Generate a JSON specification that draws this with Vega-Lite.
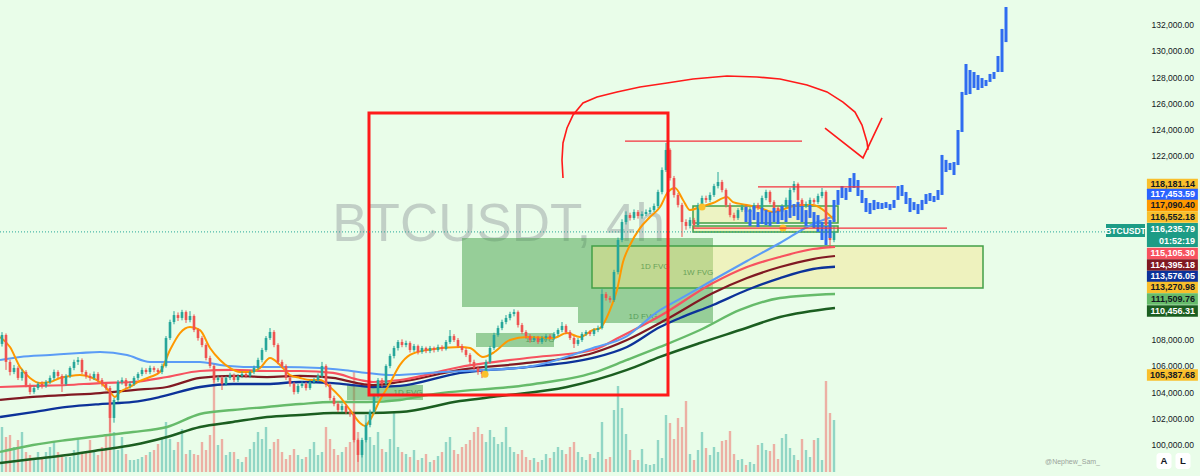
{
"$schema":"https://vega.github.io/schema/vega-lite/v6.json",
"width":1105,"height":472,
"autosize":{"type":"none"},
"padding":{"left":0,"top":0,"right":95,"bottom":4},
"background":"#e9fde9",
"config":{"view":{"stroke":null},"font":"Liberation Sans"},
"datasets":{
"candles":[
{"t":0,"o":107700,"h":108600,"l":107500,"c":108380,"v":4500},
{"t":1,"o":108380,"h":108500,"l":105720,"c":106330,"v":3500},
{"t":2,"o":106330,"h":106500,"l":105300,"c":105560,"v":3700},
{"t":3,"o":105560,"h":106100,"l":105400,"c":105870,"v":2500},
{"t":4,"o":105870,"h":106000,"l":104950,"c":105110,"v":3200},
{"t":5,"o":105110,"h":105800,"l":104900,"c":105560,"v":4000},
{"t":6,"o":105560,"h":105700,"l":104400,"c":104570,"v":2000},
{"t":7,"o":104570,"h":104700,"l":103850,"c":104040,"v":1700},
{"t":8,"o":104040,"h":104500,"l":103900,"c":104340,"v":1300},
{"t":9,"o":104340,"h":104800,"l":104200,"c":104650,"v":2000},
{"t":10,"o":104650,"h":104850,"l":104300,"c":104500,"v":1500},
{"t":11,"o":104500,"h":104950,"l":104350,"c":104800,"v":2000},
{"t":12,"o":104800,"h":105300,"l":104650,"c":105110,"v":2500},
{"t":13,"o":105110,"h":105750,"l":104950,"c":105560,"v":3000},
{"t":14,"o":105560,"h":105700,"l":105100,"c":105260,"v":2000},
{"t":15,"o":105260,"h":105400,"l":104040,"c":104650,"v":1700},
{"t":16,"o":104650,"h":105400,"l":104500,"c":105260,"v":1500},
{"t":17,"o":105260,"h":106000,"l":105100,"c":105870,"v":1500},
{"t":18,"o":105870,"h":106500,"l":105700,"c":106330,"v":2200},
{"t":19,"o":106330,"h":106700,"l":106100,"c":106480,"v":3300},
{"t":20,"o":106480,"h":106600,"l":105400,"c":105560,"v":2000},
{"t":21,"o":105560,"h":105700,"l":105050,"c":105260,"v":2000},
{"t":22,"o":105260,"h":105450,"l":104900,"c":105110,"v":3200},
{"t":23,"o":105110,"h":105600,"l":104950,"c":105410,"v":2200},
{"t":24,"o":105410,"h":105550,"l":104800,"c":104950,"v":1700},
{"t":25,"o":104950,"h":105100,"l":104450,"c":104650,"v":2500},
{"t":26,"o":104650,"h":104800,"l":104150,"c":104340,"v":3800},
{"t":27,"o":104340,"h":104500,"l":100990,"c":102060,"v":7700},
{"t":28,"o":102060,"h":103600,"l":101700,"c":103430,"v":4000},
{"t":29,"o":103430,"h":104950,"l":103250,"c":104800,"v":2200},
{"t":30,"o":104800,"h":105150,"l":104600,"c":104950,"v":3500},
{"t":31,"o":104950,"h":105100,"l":104300,"c":104500,"v":1800},
{"t":32,"o":104500,"h":104850,"l":104300,"c":104650,"v":1200},
{"t":33,"o":104650,"h":105250,"l":104500,"c":105110,"v":1200},
{"t":34,"o":105110,"h":105550,"l":104950,"c":105410,"v":1300},
{"t":35,"o":105410,"h":105900,"l":105250,"c":105720,"v":1500},
{"t":36,"o":105720,"h":105850,"l":105400,"c":105560,"v":1700},
{"t":37,"o":105560,"h":106050,"l":105400,"c":105870,"v":2000},
{"t":38,"o":105870,"h":106000,"l":105550,"c":105720,"v":2200},
{"t":39,"o":105720,"h":105850,"l":105400,"c":105560,"v":2800},
{"t":40,"o":105560,"h":106200,"l":105400,"c":106020,"v":3500},
{"t":41,"o":106020,"h":108300,"l":105900,"c":108150,"v":5000},
{"t":42,"o":108150,"h":109550,"l":108000,"c":109370,"v":3300},
{"t":43,"o":109370,"h":110200,"l":109200,"c":109900,"v":2200},
{"t":44,"o":109900,"h":110100,"l":109450,"c":109680,"v":3000},
{"t":45,"o":109680,"h":110300,"l":109500,"c":110130,"v":4300},
{"t":46,"o":110130,"h":110250,"l":109300,"c":109520,"v":1800},
{"t":47,"o":109520,"h":110200,"l":109350,"c":109830,"v":2200},
{"t":48,"o":109830,"h":109950,"l":108600,"c":108760,"v":1800},
{"t":49,"o":108760,"h":108900,"l":107950,"c":108150,"v":1700},
{"t":50,"o":108150,"h":108300,"l":107450,"c":107620,"v":3000},
{"t":51,"o":107620,"h":107750,"l":106450,"c":106630,"v":2200},
{"t":52,"o":106630,"h":106800,"l":105850,"c":106020,"v":3700},
{"t":53,"o":106020,"h":106150,"l":104750,"c":104950,"v":10000},
{"t":54,"o":104950,"h":105300,"l":104800,"c":105110,"v":2700},
{"t":55,"o":105110,"h":105250,"l":104190,"c":104650,"v":3300},
{"t":56,"o":104650,"h":105250,"l":104500,"c":105110,"v":1700},
{"t":57,"o":105110,"h":105500,"l":104950,"c":105330,"v":2000},
{"t":58,"o":105330,"h":105450,"l":104800,"c":104950,"v":2000},
{"t":59,"o":104950,"h":105400,"l":104800,"c":105260,"v":1300},
{"t":60,"o":105260,"h":105600,"l":105100,"c":105410,"v":1000},
{"t":61,"o":105410,"h":105550,"l":105100,"c":105260,"v":1500},
{"t":62,"o":105260,"h":105700,"l":105100,"c":105560,"v":2300},
{"t":63,"o":105560,"h":106050,"l":105400,"c":105870,"v":3000},
{"t":64,"o":105870,"h":106650,"l":105750,"c":106480,"v":4000},
{"t":65,"o":106480,"h":107400,"l":106300,"c":107240,"v":3300},
{"t":66,"o":107240,"h":108300,"l":107100,"c":108150,"v":4500},
{"t":67,"o":108150,"h":108910,"l":108000,"c":108610,"v":2300},
{"t":68,"o":108610,"h":108750,"l":107450,"c":107620,"v":3000},
{"t":69,"o":107620,"h":107750,"l":106150,"c":106330,"v":3300},
{"t":70,"o":106330,"h":106500,"l":105850,"c":106020,"v":2000},
{"t":71,"o":106020,"h":106150,"l":104950,"c":105110,"v":1300},
{"t":72,"o":105110,"h":105250,"l":104450,"c":104650,"v":1700},
{"t":73,"o":104650,"h":104800,"l":103850,"c":104040,"v":2300},
{"t":74,"o":104040,"h":104650,"l":103900,"c":104500,"v":1700},
{"t":75,"o":104500,"h":104850,"l":104350,"c":104650,"v":1300},
{"t":76,"o":104650,"h":104800,"l":104150,"c":104340,"v":1500},
{"t":77,"o":104340,"h":104950,"l":104200,"c":104800,"v":2300},
{"t":78,"o":104800,"h":105100,"l":104650,"c":104950,"v":3000},
{"t":79,"o":104950,"h":105450,"l":104800,"c":105260,"v":1700},
{"t":80,"o":105260,"h":106330,"l":105100,"c":106020,"v":2000},
{"t":81,"o":106020,"h":106150,"l":104400,"c":104570,"v":4500},
{"t":82,"o":104570,"h":104700,"l":103400,"c":103580,"v":3300},
{"t":83,"o":103580,"h":103750,"l":102950,"c":103120,"v":2300},
{"t":84,"o":103120,"h":103300,"l":102500,"c":102670,"v":1700},
{"t":85,"o":102670,"h":103150,"l":102500,"c":102970,"v":2000},
{"t":86,"o":102970,"h":103100,"l":102350,"c":102510,"v":2500},
{"t":87,"o":102510,"h":102700,"l":102150,"c":102360,"v":3000},
{"t":88,"o":102360,"h":102500,"l":100200,"c":100380,"v":10000},
{"t":89,"o":100380,"h":100500,"l":98710,"c":99240,"v":4000},
{"t":90,"o":99240,"h":100550,"l":99050,"c":100380,"v":3000},
{"t":91,"o":100380,"h":101700,"l":100200,"c":101520,"v":5700},
{"t":92,"o":101520,"h":102700,"l":101350,"c":102510,"v":3500},
{"t":93,"o":102510,"h":103900,"l":102350,"c":103730,"v":2700},
{"t":94,"o":103730,"h":105100,"l":103600,"c":104950,"v":4000},
{"t":95,"o":104950,"h":105100,"l":104400,"c":104650,"v":2300},
{"t":96,"o":104650,"h":106150,"l":104500,"c":106020,"v":2000},
{"t":97,"o":106020,"h":106950,"l":105850,"c":106780,"v":3300},
{"t":98,"o":106780,"h":107550,"l":106600,"c":107390,"v":6000},
{"t":99,"o":107390,"h":108000,"l":107200,"c":107850,"v":2500},
{"t":100,"o":107850,"h":108050,"l":107450,"c":107620,"v":2000},
{"t":101,"o":107620,"h":107950,"l":107450,"c":107770,"v":1800},
{"t":102,"o":107770,"h":107900,"l":107050,"c":107240,"v":1500},
{"t":103,"o":107240,"h":107700,"l":107100,"c":107540,"v":2200},
{"t":104,"o":107540,"h":107650,"l":106900,"c":107090,"v":1200},
{"t":105,"o":107090,"h":107550,"l":106950,"c":107390,"v":1400},
{"t":106,"o":107390,"h":107500,"l":107000,"c":107160,"v":1800},
{"t":107,"o":107160,"h":107550,"l":107000,"c":107390,"v":1000},
{"t":108,"o":107390,"h":107500,"l":107050,"c":107240,"v":1200},
{"t":109,"o":107240,"h":107650,"l":107100,"c":107470,"v":1600},
{"t":110,"o":107470,"h":107600,"l":107150,"c":107310,"v":2000},
{"t":111,"o":107310,"h":108000,"l":107200,"c":107850,"v":3000},
{"t":112,"o":107850,"h":108760,"l":107700,"c":108300,"v":3500},
{"t":113,"o":108300,"h":108450,"l":107850,"c":108000,"v":2200},
{"t":114,"o":108000,"h":108150,"l":107400,"c":107540,"v":1800},
{"t":115,"o":107540,"h":107700,"l":107050,"c":107240,"v":2500},
{"t":116,"o":107240,"h":107400,"l":106700,"c":106860,"v":2800},
{"t":117,"o":106860,"h":107000,"l":106150,"c":106330,"v":3200},
{"t":118,"o":106330,"h":106500,"l":105700,"c":105870,"v":4000},
{"t":119,"o":105870,"h":106000,"l":105350,"c":105560,"v":4500},
{"t":120,"o":105560,"h":105700,"l":105100,"c":105410,"v":3800},
{"t":121,"o":105410,"h":106500,"l":105300,"c":106330,"v":3000},
{"t":122,"o":106330,"h":107550,"l":106200,"c":107390,"v":4200},
{"t":123,"o":107390,"h":108550,"l":107250,"c":108380,"v":3500},
{"t":124,"o":108380,"h":109100,"l":108250,"c":108910,"v":2800},
{"t":125,"o":108910,"h":109550,"l":108750,"c":109370,"v":3000},
{"t":126,"o":109370,"h":109900,"l":109200,"c":109680,"v":4500},
{"t":127,"o":109680,"h":110150,"l":109500,"c":109980,"v":2500},
{"t":128,"o":109980,"h":110340,"l":109800,"c":110130,"v":2000},
{"t":129,"o":110130,"h":110250,"l":108950,"c":109140,"v":1800},
{"t":130,"o":109140,"h":109300,"l":108450,"c":108610,"v":2200},
{"t":131,"o":108610,"h":108750,"l":108100,"c":108300,"v":1500},
{"t":132,"o":108300,"h":108450,"l":107800,"c":108000,"v":1200},
{"t":133,"o":108000,"h":108300,"l":107850,"c":108150,"v":1400},
{"t":134,"o":108150,"h":108300,"l":107700,"c":107850,"v":1000},
{"t":135,"o":107850,"h":108300,"l":107700,"c":108150,"v":1200},
{"t":136,"o":108150,"h":108450,"l":108000,"c":108300,"v":1800},
{"t":137,"o":108300,"h":108450,"l":108000,"c":108150,"v":1400},
{"t":138,"o":108150,"h":108600,"l":108000,"c":108460,"v":2000},
{"t":139,"o":108460,"h":108900,"l":108300,"c":108760,"v":2500},
{"t":140,"o":108760,"h":109370,"l":108600,"c":109070,"v":2200},
{"t":141,"o":109070,"h":109200,"l":108450,"c":108610,"v":1800},
{"t":142,"o":108610,"h":108750,"l":108000,"c":108150,"v":2500},
{"t":143,"o":108150,"h":108300,"l":107390,"c":107700,"v":3000},
{"t":144,"o":107700,"h":108150,"l":107550,"c":108000,"v":2000},
{"t":145,"o":108000,"h":108600,"l":107850,"c":108460,"v":1500},
{"t":146,"o":108460,"h":108750,"l":108300,"c":108610,"v":1200},
{"t":147,"o":108610,"h":108750,"l":108300,"c":108460,"v":1800},
{"t":148,"o":108460,"h":108900,"l":108300,"c":108760,"v":1400},
{"t":149,"o":108760,"h":109100,"l":108600,"c":108910,"v":2000},
{"t":150,"o":108910,"h":111870,"l":108800,"c":111500,"v":5000},
{"t":151,"o":111500,"h":111650,"l":111000,"c":111200,"v":1300},
{"t":152,"o":111200,"h":111350,"l":110850,"c":111050,"v":1500},
{"t":153,"o":111050,"h":113350,"l":110900,"c":113180,"v":6200},
{"t":154,"o":113180,"h":115800,"l":113000,"c":115620,"v":8600},
{"t":155,"o":115620,"h":117200,"l":115450,"c":116990,"v":6400},
{"t":156,"o":116990,"h":117800,"l":116800,"c":117520,"v":3800},
{"t":157,"o":117520,"h":117700,"l":117100,"c":117300,"v":2200},
{"t":158,"o":117300,"h":117950,"l":117150,"c":117750,"v":1200},
{"t":159,"o":117750,"h":117900,"l":117250,"c":117450,"v":1200},
{"t":160,"o":117450,"h":117800,"l":117250,"c":117600,"v":2300},
{"t":161,"o":117600,"h":117950,"l":117450,"c":117750,"v":800},
{"t":162,"o":117750,"h":118100,"l":117600,"c":117900,"v":700},
{"t":163,"o":117900,"h":118400,"l":117750,"c":118210,"v":800},
{"t":164,"o":118210,"h":119450,"l":118050,"c":119280,"v":3200},
{"t":165,"o":119280,"h":121150,"l":119100,"c":120950,"v":1400},
{"t":166,"o":120950,"h":123010,"l":120800,"c":122480,"v":5700},
{"t":167,"o":122480,"h":122600,"l":120150,"c":120340,"v":4900},
{"t":168,"o":120340,"h":120500,"l":118850,"c":119050,"v":3300},
{"t":169,"o":119050,"h":119200,"l":118100,"c":118290,"v":5400},
{"t":170,"o":118290,"h":118450,"l":115850,"c":116990,"v":4500},
{"t":171,"o":116990,"h":117200,"l":116400,"c":116690,"v":7100},
{"t":172,"o":116690,"h":117350,"l":116500,"c":117140,"v":1800},
{"t":173,"o":117140,"h":117300,"l":116550,"c":116760,"v":1200},
{"t":174,"o":116760,"h":118450,"l":116600,"c":118290,"v":2200},
{"t":175,"o":118290,"h":119000,"l":118100,"c":118820,"v":4000},
{"t":176,"o":118820,"h":119000,"l":118450,"c":118670,"v":2400},
{"t":177,"o":118670,"h":119250,"l":118500,"c":119050,"v":1700},
{"t":178,"o":119050,"h":119900,"l":118900,"c":119730,"v":2500},
{"t":179,"o":119730,"h":120800,"l":119550,"c":120040,"v":2000},
{"t":180,"o":120040,"h":120200,"l":119250,"c":119430,"v":3100},
{"t":181,"o":119430,"h":119550,"l":118100,"c":118290,"v":3200},
{"t":182,"o":118290,"h":118450,"l":117350,"c":117520,"v":4100},
{"t":183,"o":117520,"h":117700,"l":117100,"c":117300,"v":1800},
{"t":184,"o":117300,"h":118050,"l":117150,"c":117900,"v":1200},
{"t":185,"o":117900,"h":118300,"l":117750,"c":118130,"v":1300},
{"t":186,"o":118130,"h":118300,"l":117550,"c":117750,"v":700},
{"t":187,"o":117750,"h":118150,"l":117600,"c":117980,"v":1000},
{"t":188,"o":117980,"h":118450,"l":117800,"c":118290,"v":800},
{"t":189,"o":118290,"h":118450,"l":117900,"c":118060,"v":2700},
{"t":190,"o":118060,"h":119000,"l":117900,"c":118820,"v":2900},
{"t":191,"o":118820,"h":119450,"l":118650,"c":119280,"v":2200},
{"t":192,"o":119280,"h":119400,"l":118350,"c":118510,"v":2100},
{"t":193,"o":118510,"h":118650,"l":117900,"c":118060,"v":2800},
{"t":194,"o":118060,"h":118200,"l":117550,"c":117750,"v":1300},
{"t":195,"o":117750,"h":118350,"l":117600,"c":118210,"v":3400},
{"t":196,"o":118210,"h":118850,"l":118050,"c":118670,"v":3800},
{"t":197,"o":118670,"h":119600,"l":118500,"c":119430,"v":2400},
{"t":198,"o":119430,"h":120110,"l":119250,"c":119890,"v":1700},
{"t":199,"o":119890,"h":120000,"l":118500,"c":118670,"v":1200},
{"t":200,"o":118670,"h":118800,"l":118050,"c":118210,"v":3300},
{"t":201,"o":118210,"h":118550,"l":118050,"c":118360,"v":2200},
{"t":202,"o":118360,"h":118850,"l":118200,"c":118670,"v":1500},
{"t":203,"o":118670,"h":118800,"l":118350,"c":118510,"v":3200},
{"t":204,"o":118510,"h":119150,"l":118350,"c":118970,"v":3400},
{"t":205,"o":118970,"h":119580,"l":118800,"c":119280,"v":1200},
{"t":206,"o":119280,"h":119400,"l":116550,"c":116760,"v":9100},
{"t":207,"o":116760,"h":116900,"l":115010,"c":115620,"v":5900},
{"t":208,"o":115620,"h":116700,"l":115450,"c":116236,"v":5200}
],
"proj":[
{"t":186,"hi":118130,"lo":116990},{"t":187,"hi":117900,"lo":116690},{"t":188,"hi":118210,"lo":117140},{"t":189,"hi":117750,"lo":116610},
{"t":190,"hi":118060,"lo":116840},{"t":191,"hi":117900,"lo":116760},{"t":192,"hi":117750,"lo":116690},{"t":193,"hi":118060,"lo":116990},
{"t":194,"hi":117830,"lo":116840},{"t":195,"hi":118210,"lo":117140},{"t":196,"hi":117900,"lo":116990},{"t":197,"hi":118670,"lo":117300},
{"t":198,"hi":118360,"lo":117450},{"t":199,"hi":118510,"lo":117140},{"t":200,"hi":118210,"lo":116990},{"t":201,"hi":117900,"lo":116690},
{"t":202,"hi":118290,"lo":117300},{"t":203,"hi":117750,"lo":116530},{"t":204,"hi":117520,"lo":116230},{"t":205,"hi":116990,"lo":115620},
{"t":206,"hi":116690,"lo":115240},{"t":207,"hi":117140,"lo":115770},{"t":208,"hi":118670,"lo":116990},{"t":209,"hi":119430,"lo":118290},
{"t":210,"hi":119730,"lo":118820},{"t":211,"hi":119580,"lo":118670},{"t":212,"hi":120340,"lo":119280},{"t":213,"hi":120720,"lo":119580},
{"t":214,"hi":120190,"lo":118970},{"t":215,"hi":119430,"lo":118440},{"t":216,"hi":118820,"lo":117750},{"t":217,"hi":118440,"lo":117600},
{"t":218,"hi":118670,"lo":117900},{"t":219,"hi":118510,"lo":117980},{"t":220,"hi":118440,"lo":117980},{"t":221,"hi":118510,"lo":118060},
{"t":222,"hi":118360,"lo":117900},{"t":223,"hi":118670,"lo":118060},{"t":224,"hi":119730,"lo":118670},{"t":225,"hi":119810,"lo":118970},
{"t":226,"hi":119280,"lo":118360},{"t":227,"hi":118820,"lo":117750},{"t":228,"hi":118510,"lo":117900},{"t":229,"hi":118360,"lo":117600},
{"t":230,"hi":118670,"lo":117900},{"t":231,"hi":119120,"lo":118360},{"t":232,"hi":119200,"lo":118590},{"t":233,"hi":118970,"lo":118510},
{"t":234,"hi":119430,"lo":118670},{"t":235,"hi":122100,"lo":119050},{"t":236,"hi":121720,"lo":120800},{"t":237,"hi":121490,"lo":120950},
{"t":238,"hi":121560,"lo":120570},{"t":239,"hi":124000,"lo":121330},{"t":240,"hi":126900,"lo":123850},{"t":241,"hi":129030,"lo":126670},
{"t":242,"hi":128570,"lo":126740},{"t":243,"hi":128420,"lo":127200},{"t":244,"hi":128190,"lo":127050},{"t":245,"hi":127960,"lo":127200},
{"t":246,"hi":127810,"lo":127350},{"t":247,"hi":128270,"lo":127660},{"t":248,"hi":128420,"lo":127890},{"t":249,"hi":129640,"lo":128420},
{"t":250,"hi":131700,"lo":128420},{"t":251,"hi":133370,"lo":130700}
],
"ma":[
{"s":"dg","t":-0.5,"p":98630},{"s":"dg","t":7.75,"p":98930},{"s":"dg","t":16.25,"p":99240},{"s":"dg","t":24.5,"p":99620},{"s":"dg","t":32.75,"p":100000},{"s":"dg","t":41.25,"p":100610},{"s":"dg","t":49.5,"p":101370},{"s":"dg","t":57.75,"p":101750},{"s":"dg","t":66.25,"p":102130},{"s":"dg","t":74.5,"p":102290},{"s":"dg","t":82.75,"p":102440},{"s":"dg","t":91.25,"p":102440},{"s":"dg","t":99.5,"p":102510},{"s":"dg","t":114.5,"p":103350},{"s":"dg","t":124.5,"p":103730},{"s":"dg","t":141.25,"p":104420},{"s":"dg","t":156.25,"p":105720},{"s":"dg","t":164.5,"p":106710},{"s":"dg","t":174.5,"p":107770},{"s":"dg","t":184.5,"p":108760},{"s":"dg","t":194.5,"p":109750},{"s":"dg","t":208.25,"p":110440},
{"s":"lg","t":-0.5,"p":99470},{"s":"lg","t":7.75,"p":100000},{"s":"lg","t":16.25,"p":100380},{"s":"lg","t":24.5,"p":100690},{"s":"lg","t":32.75,"p":100990},{"s":"lg","t":41.25,"p":101370},{"s":"lg","t":49.5,"p":102360},{"s":"lg","t":57.75,"p":102670},{"s":"lg","t":66.25,"p":102900},{"s":"lg","t":74.5,"p":103120},{"s":"lg","t":82.75,"p":103280},{"s":"lg","t":91.25,"p":103280},{"s":"lg","t":99.5,"p":103430},{"s":"lg","t":106.25,"p":103810},{"s":"lg","t":131.25,"p":104570},{"s":"lg","t":147.75,"p":105490},{"s":"lg","t":156.25,"p":106480},{"s":"lg","t":164.5,"p":107470},{"s":"lg","t":174.5,"p":108760},{"s":"lg","t":184.5,"p":110290},{"s":"lg","t":194.5,"p":111200},{"s":"lg","t":208.25,"p":111510},
{"s":"nv","t":-0.5,"p":102130},{"s":"nv","t":7.75,"p":102510},{"s":"nv","t":16.25,"p":102900},{"s":"nv","t":24.5,"p":103120},{"s":"nv","t":32.75,"p":103280},{"s":"nv","t":39.5,"p":103660},{"s":"nv","t":49.5,"p":104420},{"s":"nv","t":57.75,"p":104650},{"s":"nv","t":66.25,"p":104650},{"s":"nv","t":74.5,"p":104800},{"s":"nv","t":82.75,"p":104720},{"s":"nv","t":89.5,"p":104500},{"s":"nv","t":92.75,"p":104420},{"s":"nv","t":99.5,"p":104500},{"s":"nv","t":114.5,"p":105490},{"s":"nv","t":131.25,"p":105940},{"s":"nv","t":147.75,"p":106630},{"s":"nv","t":156.25,"p":107470},{"s":"nv","t":164.5,"p":108990},{"s":"nv","t":169.5,"p":109680},{"s":"nv","t":177.75,"p":110670},{"s":"nv","t":186.25,"p":111810},{"s":"nv","t":194.5,"p":112720},{"s":"nv","t":202.75,"p":113410},{"s":"nv","t":208.25,"p":113580},
{"s":"dr","t":-0.5,"p":103430},{"s":"dr","t":7.75,"p":103660},{"s":"dr","t":16.25,"p":103810},{"s":"dr","t":24.5,"p":103960},{"s":"dr","t":32.75,"p":104190},{"s":"dr","t":41.25,"p":104420},{"s":"dr","t":49.5,"p":105110},{"s":"dr","t":57.75,"p":105260},{"s":"dr","t":66.25,"p":105180},{"s":"dr","t":74.5,"p":105260},{"s":"dr","t":82.75,"p":105110},{"s":"dr","t":88.75,"p":104720},{"s":"dr","t":92.75,"p":104570},{"s":"dr","t":99.5,"p":104800},{"s":"dr","t":114.5,"p":105720},{"s":"dr","t":131.25,"p":106250},{"s":"dr","t":147.75,"p":107010},{"s":"dr","t":156.25,"p":108000},{"s":"dr","t":166.25,"p":109600},{"s":"dr","t":177.75,"p":111580},{"s":"dr","t":186.25,"p":112720},{"s":"dr","t":194.5,"p":113560},{"s":"dr","t":202.75,"p":114170},{"s":"dr","t":208.25,"p":114400},
{"s":"r","t":-0.5,"p":104420},{"s":"r","t":7.75,"p":104500},{"s":"r","t":16.25,"p":104570},{"s":"r","t":24.5,"p":104720},{"s":"r","t":32.75,"p":104800},{"s":"r","t":41.25,"p":105180},{"s":"r","t":49.5,"p":105640},{"s":"r","t":57.75,"p":105720},{"s":"r","t":66.25,"p":105640},{"s":"r","t":74.5,"p":105640},{"s":"r","t":82.75,"p":105490},{"s":"r","t":89.5,"p":104950},{"s":"r","t":92.75,"p":104800},{"s":"r","t":99.5,"p":104950},{"s":"r","t":114.5,"p":105940},{"s":"r","t":131.25,"p":106630},{"s":"r","t":147.75,"p":107240},{"s":"r","t":154.5,"p":108230},{"s":"r","t":164.5,"p":109830},{"s":"r","t":177.75,"p":112340},{"s":"r","t":186.25,"p":113560},{"s":"r","t":194.5,"p":114330},{"s":"r","t":202.75,"p":114930},{"s":"r","t":208.25,"p":115100},
{"s":"lb","t":-0.5,"p":106480},{"s":"lb","t":4.5,"p":106710},{"s":"lb","t":12,"p":106860},{"s":"lb","t":19.5,"p":107010},{"s":"lb","t":24.5,"p":107090},{"s":"lb","t":31.25,"p":106860},{"s":"lb","t":37,"p":106330},{"s":"lb","t":42.75,"p":106330},{"s":"lb","t":49.5,"p":106330},{"s":"lb","t":54.5,"p":106100},{"s":"lb","t":62,"p":105940},{"s":"lb","t":69.5,"p":105940},{"s":"lb","t":79.5,"p":105870},{"s":"lb","t":85.25,"p":105720},{"s":"lb","t":91.25,"p":105490},{"s":"lb","t":97.75,"p":105330},{"s":"lb","t":110.25,"p":105560},{"s":"lb","t":131.25,"p":105940},{"s":"lb","t":147.75,"p":107390},{"s":"lb","t":156.25,"p":108300},{"s":"lb","t":163.75,"p":110130},{"s":"lb","t":169.5,"p":111130},{"s":"lb","t":177.75,"p":112570},{"s":"lb","t":186.25,"p":114020},{"s":"lb","t":194.5,"p":115390},{"s":"lb","t":202.75,"p":116840},{"s":"lb","t":208.25,"p":117450},
{"s":"e20","t":-0.5,"p":108230},{"s":"e20","t":2,"p":107470},{"s":"e20","t":4.5,"p":105940},{"s":"e20","t":7,"p":105110},{"s":"e20","t":9.5,"p":104720},{"s":"e20","t":12,"p":104800},{"s":"e20","t":14.5,"p":105110},{"s":"e20","t":17,"p":105260},{"s":"e20","t":19.5,"p":105330},{"s":"e20","t":22,"p":105180},{"s":"e20","t":24.5,"p":104800},{"s":"e20","t":27,"p":104040},{"s":"e20","t":28.25,"p":103660},{"s":"e20","t":29.5,"p":104040},{"s":"e20","t":32,"p":104420},{"s":"e20","t":34.5,"p":104880},{"s":"e20","t":37,"p":105180},{"s":"e20","t":39.5,"p":105560},{"s":"e20","t":42,"p":107240},{"s":"e20","t":44.5,"p":108530},{"s":"e20","t":47,"p":108990},{"s":"e20","t":49.5,"p":108760},{"s":"e20","t":52,"p":107390},{"s":"e20","t":54.5,"p":106480},{"s":"e20","t":57,"p":105870},{"s":"e20","t":59.5,"p":105560},{"s":"e20","t":62,"p":105560},{"s":"e20","t":64.5,"p":105870},{"s":"e20","t":67,"p":106630},{"s":"e20","t":69.5,"p":106100},{"s":"e20","t":72,"p":105330},{"s":"e20","t":74.5,"p":105110},{"s":"e20","t":77,"p":104950},{"s":"e20","t":79.5,"p":104950},{"s":"e20","t":82,"p":104420},{"s":"e20","t":84.5,"p":103660},{"s":"e20","t":87,"p":102670},{"s":"e20","t":89.5,"p":101680},{"s":"e20","t":90.75,"p":101450},{"s":"e20","t":92,"p":101900},{"s":"e20","t":94.5,"p":103430},{"s":"e20","t":97,"p":104720},{"s":"e20","t":99.5,"p":106100},{"s":"e20","t":102,"p":106860},{"s":"e20","t":106.25,"p":107240},{"s":"e20","t":114.5,"p":107470},{"s":"e20","t":117,"p":107390},{"s":"e20","t":120.25,"p":106710},{"s":"e20","t":122.75,"p":107010},{"s":"e20","t":127,"p":108000},{"s":"e20","t":131.25,"p":108230},{"s":"e20","t":137.75,"p":108150},{"s":"e20","t":141.25,"p":108530},{"s":"e20","t":144.5,"p":108230},{"s":"e20","t":147.75,"p":108760},{"s":"e20","t":149.5,"p":108910},{"s":"e20","t":152,"p":110290},{"s":"e20","t":153.75,"p":111810},{"s":"e20","t":155.25,"p":113940},{"s":"e20","t":157,"p":115240},{"s":"e20","t":159.5,"p":116530},{"s":"e20","t":162,"p":117370},{"s":"e20","t":164.5,"p":118130},{"s":"e20","t":166.5,"p":119280},{"s":"e20","t":168.25,"p":119580},{"s":"e20","t":170.25,"p":118670},{"s":"e20","t":172,"p":117900},{"s":"e20","t":174.5,"p":118130},{"s":"e20","t":177.75,"p":118440},{"s":"e20","t":181.25,"p":118900},{"s":"e20","t":182.75,"p":118510},{"s":"e20","t":186.25,"p":118290},{"s":"e20","t":189.5,"p":118060},{"s":"e20","t":192.75,"p":117750},{"s":"e20","t":196.25,"p":118060},{"s":"e20","t":199.5,"p":118290},{"s":"e20","t":202.75,"p":118290},{"s":"e20","t":206.25,"p":117680},{"s":"e20","t":208.25,"p":117090}
],
"boxes":[
{"k":"1D FVG","t1":115,"t2":177.75,"p1":115770,"p2":110510},
{"k":"1D FVG","t1":144,"t2":177.75,"p1":110510,"p2":109295},
{"k":"1D FVG","t1":86.25,"t2":105.25,"p1":104570,"p2":103430},
{"k":"1D FVG","t1":118.5,"t2":138,"p1":108530,"p2":107470},
{"k":"1W FVG","t1":147.5,"t2":245.25,"p1":115160,"p2":111960},
{"k":"range","t1":172.75,"t2":209,"p1":118210,"p2":116910},
{"k":"range","t1":172.75,"t2":209,"p1":116680,"p2":116230}
],
"fvgtext":[
{"s":"1D FVG","t":163.25,"p":113560},
{"s":"1W FVG","t":174,"p":113100},
{"s":"1D FVG","t":160.25,"p":109750},
{"s":"1D FVG","t":101.5,"p":103960},
{"s":"1D FVG","t":134.5,"p":108000}
],
"redlines":[
{"t1":155.75,"t2":200,"p":123160},{"t1":189,"t2":223.5,"p":119660},{"t1":172.75,"t2":236.25,"p":116530}
],
"redbox":[{"t1":91.75,"t2":166.5,"p1":125300,"p2":103810}],
"arc":[
{"g":"a","n":0,"t":140.25,"p":120340},{"g":"a","n":1,"t":140,"p":121720},{"g":"a","n":2,"t":140.25,"p":123010},{"g":"a","n":3,"t":141.25,"p":124150},{"g":"a","n":4,"t":142.75,"p":125140},{"g":"a","n":5,"t":145.25,"p":126060},{"g":"a","n":6,"t":148.75,"p":126520},{"g":"a","n":7,"t":153.75,"p":126900},{"g":"a","n":8,"t":159.5,"p":127280},{"g":"a","n":9,"t":166.25,"p":127580},{"g":"a","n":10,"t":172.75,"p":127890},{"g":"a","n":11,"t":181.25,"p":128110},{"g":"a","n":12,"t":188.75,"p":128040},{"g":"a","n":13,"t":194.5,"p":127890},{"g":"a","n":14,"t":201.25,"p":127430},{"g":"a","n":15,"t":206.25,"p":126900},{"g":"a","n":16,"t":210.25,"p":126130},{"g":"a","n":17,"t":213.25,"p":125370},{"g":"a","n":18,"t":215,"p":124380},{"g":"a","n":19,"t":216.25,"p":123090},{"g":"a","n":20,"t":216.5,"p":122480},
{"g":"b","n":0,"t":205.75,"p":124150},{"g":"b","n":1,"t":215.25,"p":121870},{"g":"b","n":2,"t":220,"p":124920}
],
"dots":[{"t":120.75,"p":105390},{"t":175,"p":118134},{"t":195.25,"p":116533}],
"labels":[
{"s":"118,181.14","at":119848},{"s":"117,453.59","at":119086},{"s":"117,090.40","at":118248},{"s":"116,552.18","at":117372},
{"s":"115,105.30","at":114591},{"s":"114,395.18","at":113715},{"s":"113,576.05","at":112839},{"s":"113,270.98","at":112001},
{"s":"111,509.76","at":111124},{"s":"110,456.31","at":110210},{"s":"105,387.68","at":105333}
],
"last":[{"s":"116,235.79","at":116458},{"s":"01:52:19","at":115543}],
"ticks":[{"p":100000},{"p":102000},{"p":104000},{"p":106000},{"p":108000},{"p":122000},{"p":124000},{"p":126000},{"p":128000},{"p":130000},{"p":132000}]
},
"resolve":{"scale":{"y":"independent"}},
"layer":[
{"data":{"name":"candles"},"mark":{"type":"rule","strokeWidth":2.4},
 "encoding":{"x":{"field":"t","type":"quantitative","scale":{"domain":[-0.5,275.75],"nice":false,"zero":false},"axis":null},
  "y":{"field":"v","type":"quantitative","scale":{"domain":[0,47200],"nice":false},"axis":null},
  "y2":{"datum":0},
  "color":{"condition":{"test":"datum.c>=datum.o","value":"#26a69a"},"value":"#ef5350"},
  "opacity":{"value":0.45}}},
{"resolve":{"scale":{"color":"independent"}},
 "layer":[
 {"data":{"name":"ticks"},
  "mark":{"type":"text","align":"right","baseline":"middle","fontSize":8.5,"font":"Liberation Sans","color":"#131722"},
  "encoding":{"text":{"field":"p","type":"quantitative","format":",.2f"},
   "x":{"datum":298,"type":"quantitative","scale":{"domain":[-0.5,275.75],"nice":false,"zero":false},"axis":null},
   "y":{"field":"p","type":"quantitative","scale":{"domain":[97943,133905],"nice":false,"zero":false},"axis":null}}},
 {"data":{"values":[{"s":"BTCUSDT, 4h"}]},
  "mark":{"type":"text","align":"right","baseline":"alphabetic","fontSize":53,"font":"Liberation Sans","color":"#787b86","opacity":0.35},
  "encoding":{"text":{"field":"s"},
   "x":{"datum":165.75,"type":"quantitative","scale":{"domain":[-0.5,275.75],"nice":false,"zero":false},"axis":null},
   "y":{"datum":115524,"type":"quantitative","scale":{"domain":[97943,133905],"nice":false,"zero":false},"axis":null}}},
 {"data":{"name":"boxes"},"transform":[{"filter":"datum.k=='1D FVG'"}],
  "mark":{"type":"rect","color":"#43a047","opacity":0.5},
  "encoding":{"x":{"field":"t1","type":"quantitative","scale":{"domain":[-0.5,275.75],"nice":false,"zero":false},"axis":null},"x2":{"field":"t2"},
   "y":{"field":"p1","type":"quantitative","scale":{"domain":[97943,133905],"nice":false,"zero":false},"axis":null},"y2":{"field":"p2"}}},
 {"data":{"name":"boxes"},"transform":[{"filter":"datum.k=='1W FVG'"}],
  "mark":{"type":"rect","fill":"#f3e48a","fillOpacity":0.45,"stroke":"#43a047","strokeWidth":1.5},
  "encoding":{"x":{"field":"t1","type":"quantitative","scale":{"domain":[-0.5,275.75],"nice":false,"zero":false},"axis":null},"x2":{"field":"t2"},
   "y":{"field":"p1","type":"quantitative","scale":{"domain":[97943,133905],"nice":false,"zero":false},"axis":null},"y2":{"field":"p2"}}},
 {"data":{"name":"boxes"},"transform":[{"filter":"datum.k=='range'"}],
  "mark":{"type":"rect","fill":"#f3e48a","fillOpacity":0.4,"stroke":"#43a047","strokeWidth":1.5},
  "encoding":{"x":{"field":"t1","type":"quantitative","scale":{"domain":[-0.5,275.75],"nice":false,"zero":false},"axis":null},"x2":{"field":"t2"},
   "y":{"field":"p1","type":"quantitative","scale":{"domain":[97943,133905],"nice":false,"zero":false},"axis":null},"y2":{"field":"p2"}}},
 {"data":{"name":"fvgtext"},
  "mark":{"type":"text","fontSize":8,"color":"#2e7d32","opacity":0.6,"baseline":"middle"},
  "encoding":{"text":{"field":"s"},"x":{"field":"t","type":"quantitative","scale":{"domain":[-0.5,275.75],"nice":false,"zero":false},"axis":null},
   "y":{"field":"p","type":"quantitative","scale":{"domain":[97943,133905],"nice":false,"zero":false},"axis":null}}},
 {"data":{"name":"ma"},
  "mark":{"type":"line","interpolate":"monotone"},
  "encoding":{"x":{"field":"t","type":"quantitative","scale":{"domain":[-0.5,275.75],"nice":false,"zero":false},"axis":null},
   "y":{"field":"p","type":"quantitative","scale":{"domain":[97943,133905],"nice":false,"zero":false},"axis":null},
   "color":{"field":"s","type":"nominal","scale":{"domain":["dg","lg","nv","dr","r","lb","e20"],"range":["#1b5e20","#66bb6a","#0c3299","#801922","#f7525f","#5b9cf6","#ff9800"]},"legend":null},
   "strokeWidth":{"field":"s","type":"ordinal","scale":{"domain":["dg","lg","nv","dr","r","lb","e20"],"range":[2.5,2,2.5,2.5,2.5,2,1.5]},"legend":null}}},
 {"data":{"name":"candles"},"mark":{"type":"rule","strokeWidth":1},
  "encoding":{"x":{"field":"t","type":"quantitative","scale":{"domain":[-0.5,275.75],"nice":false,"zero":false},"axis":null},
   "y":{"field":"h","type":"quantitative","scale":{"domain":[97943,133905],"nice":false,"zero":false},"axis":null},"y2":{"field":"l"},
   "color":{"condition":{"test":"datum.c>=datum.o","value":"#26a69a"},"value":"#ef5350"}}},
 {"data":{"name":"candles"},"mark":{"type":"rule","strokeWidth":2.6},
  "encoding":{"x":{"field":"t","type":"quantitative","scale":{"domain":[-0.5,275.75],"nice":false,"zero":false},"axis":null},
   "y":{"field":"o","type":"quantitative","scale":{"domain":[97943,133905],"nice":false,"zero":false},"axis":null},"y2":{"field":"c"},
   "color":{"condition":{"test":"datum.c>=datum.o","value":"#26a69a"},"value":"#ef5350"}}},
 {"data":{"name":"proj"},"mark":{"type":"rule","strokeWidth":3,"color":"#2f6cf0"},
  "encoding":{"x":{"field":"t","type":"quantitative","scale":{"domain":[-0.5,275.75],"nice":false,"zero":false},"axis":null},
   "y":{"field":"hi","type":"quantitative","scale":{"domain":[97943,133905],"nice":false,"zero":false},"axis":null},"y2":{"field":"lo"}}},
 {"data":{"name":"dots"},"mark":{"type":"point","filled":true,"color":"#fbc02d","size":50,"opacity":1},
  "encoding":{"x":{"field":"t","type":"quantitative","scale":{"domain":[-0.5,275.75],"nice":false,"zero":false},"axis":null},
   "y":{"field":"p","type":"quantitative","scale":{"domain":[97943,133905],"nice":false,"zero":false},"axis":null}}},
 {"data":{"name":"redlines"},"mark":{"type":"rule","color":"#f4303c","strokeWidth":1.3},
  "encoding":{"x":{"field":"t1","type":"quantitative","scale":{"domain":[-0.5,275.75],"nice":false,"zero":false},"axis":null},"x2":{"field":"t2"},
   "y":{"field":"p","type":"quantitative","scale":{"domain":[97943,133905],"nice":false,"zero":false},"axis":null}}},
 {"data":{"name":"redbox"},"mark":{"type":"rect","fillOpacity":0,"stroke":"#ff1a1a","strokeWidth":3},
  "encoding":{"x":{"field":"t1","type":"quantitative","scale":{"domain":[-0.5,275.75],"nice":false,"zero":false},"axis":null},"x2":{"field":"t2"},
   "y":{"field":"p1","type":"quantitative","scale":{"domain":[97943,133905],"nice":false,"zero":false},"axis":null},"y2":{"field":"p2"}}},
 {"data":{"name":"arc"},"mark":{"type":"line","color":"#ff1a1a","strokeWidth":1.6},
  "encoding":{"x":{"field":"t","type":"quantitative","scale":{"domain":[-0.5,275.75],"nice":false,"zero":false},"axis":null},
   "y":{"field":"p","type":"quantitative","scale":{"domain":[97943,133905],"nice":false,"zero":false},"axis":null},
   "detail":{"field":"g"},"order":{"field":"n","type":"quantitative"}}},
 {"data":{"values":[{"a":1}]},"mark":{"type":"rule","color":"#26a69a","strokeWidth":1,"strokeDash":[1,2]},
  "encoding":{"x":{"datum":-0.5,"type":"quantitative","scale":{"domain":[-0.5,275.75],"nice":false,"zero":false},"axis":null},"x2":{"datum":276},
   "y":{"datum":116236,"type":"quantitative","scale":{"domain":[97943,133905],"nice":false,"zero":false},"axis":null}}},
 {"data":{"name":"labels"},"mark":{"type":"tick","orient":"horizontal","size":51,"thickness":11.5,"opacity":1},
  "encoding":{"x":{"datum":292.6,"type":"quantitative","scale":{"domain":[-0.5,275.75],"nice":false,"zero":false},"axis":null},
   "y":{"field":"at","type":"quantitative","scale":{"domain":[97943,133905],"nice":false,"zero":false},"axis":null},
   "color":{"field":"s","type":"nominal","scale":{"domain":["118,181.14","117,453.59","117,090.40","116,552.18","115,105.30","114,395.18","113,576.05","113,270.98","111,509.76","110,456.31","105,387.68"],"range":["#f9bf2c","#2962ff","#ff9800","#f9bf2c","#f7525f","#801922","#0c3299","#f9bf2c","#66bb6a","#1b5e20","#f9bf2c"]},"legend":null}}},
 {"data":{"name":"labels"},"transform":[{"filter":{"field":"s","oneOf":["118,181.14","117,090.40","116,552.18","113,270.98","111,509.76","105,387.68"]}}],
  "mark":{"type":"text","align":"right","baseline":"middle","fontSize":9,"fontWeight":"bold","color":"#131722"},
  "encoding":{"text":{"field":"s"},"x":{"datum":298.25,"type":"quantitative","scale":{"domain":[-0.5,275.75],"nice":false,"zero":false},"axis":null},
   "y":{"field":"at","type":"quantitative","scale":{"domain":[97943,133905],"nice":false,"zero":false},"axis":null}}},
 {"data":{"name":"labels"},"transform":[{"filter":{"not":{"field":"s","oneOf":["118,181.14","117,090.40","116,552.18","113,270.98","111,509.76","105,387.68"]}}}],
  "mark":{"type":"text","align":"right","baseline":"middle","fontSize":9,"fontWeight":"bold","color":"#ffffff"},
  "encoding":{"text":{"field":"s"},"x":{"datum":298.25,"type":"quantitative","scale":{"domain":[-0.5,275.75],"nice":false,"zero":false},"axis":null},
   "y":{"field":"at","type":"quantitative","scale":{"domain":[97943,133905],"nice":false,"zero":false},"axis":null}}},
 {"data":{"values":[{"a":1}]},"mark":{"type":"tick","orient":"horizontal","size":51,"thickness":24,"opacity":1,"color":"#1d9c86"},
  "encoding":{"x":{"datum":292.6,"type":"quantitative","scale":{"domain":[-0.5,275.75],"nice":false,"zero":false},"axis":null},
   "y":{"datum":116000,"type":"quantitative","scale":{"domain":[97943,133905],"nice":false,"zero":false},"axis":null}}},
 {"data":{"values":[{"a":1}]},"mark":{"type":"tick","orient":"horizontal","size":39,"thickness":13,"opacity":1,"color":"#1d9c86"},
  "encoding":{"x":{"datum":280.875,"type":"quantitative","scale":{"domain":[-0.5,275.75],"nice":false,"zero":false},"axis":null},
   "y":{"datum":116343,"type":"quantitative","scale":{"domain":[97943,133905],"nice":false,"zero":false},"axis":null}}},
 {"data":{"name":"last"},"mark":{"type":"text","align":"right","baseline":"middle","fontSize":9,"fontWeight":"bold","color":"#ffffff"},
  "encoding":{"text":{"field":"s"},"x":{"datum":298.25,"type":"quantitative","scale":{"domain":[-0.5,275.75],"nice":false,"zero":false},"axis":null},
   "y":{"field":"at","type":"quantitative","scale":{"domain":[97943,133905],"nice":false,"zero":false},"axis":null}}},
 {"data":{"values":[{"s":"BTCUSDT"}]},"mark":{"type":"text","align":"center","baseline":"middle","fontSize":8.5,"fontWeight":"bold","color":"#ffffff"},
  "encoding":{"text":{"field":"s"},"x":{"datum":280.875,"type":"quantitative","scale":{"domain":[-0.5,275.75],"nice":false,"zero":false},"axis":null},
   "y":{"datum":116343,"type":"quantitative","scale":{"domain":[97943,133905],"nice":false,"zero":false},"axis":null}}},
 {"data":{"values":[{"s":"A","t":290.5},{"s":"L","t":295.25}]},"mark":{"type":"tick","orient":"horizontal","size":15,"thickness":16,"opacity":1,"color":"#ffffff","cornerRadius":3},
  "encoding":{"x":{"field":"t","type":"quantitative","scale":{"domain":[-0.5,275.75],"nice":false,"zero":false},"axis":null},
   "y":{"datum":98782,"type":"quantitative","scale":{"domain":[97943,133905],"nice":false,"zero":false},"axis":null}}},
 {"data":{"values":[{"s":"A","t":290.5},{"s":"L","t":295.25}]},"mark":{"type":"text","align":"center","baseline":"middle","fontSize":9.5,"fontWeight":"bold","color":"#131722"},
  "encoding":{"text":{"field":"s"},"x":{"field":"t","type":"quantitative","scale":{"domain":[-0.5,275.75],"nice":false,"zero":false},"axis":null},
   "y":{"datum":98782,"type":"quantitative","scale":{"domain":[97943,133905],"nice":false,"zero":false},"axis":null}}},
 {"data":{"values":[{"s":"@Nephew_Sam_"}]},"mark":{"type":"text","align":"right","baseline":"middle","fontSize":7,"color":"#9aa39a"},
  "encoding":{"text":{"field":"s"},"x":{"datum":274.5,"type":"quantitative","scale":{"domain":[-0.5,275.75],"nice":false,"zero":false},"axis":null},
   "y":{"datum":98705,"type":"quantitative","scale":{"domain":[97943,133905],"nice":false,"zero":false},"axis":null}}}
 ]}
]
}
